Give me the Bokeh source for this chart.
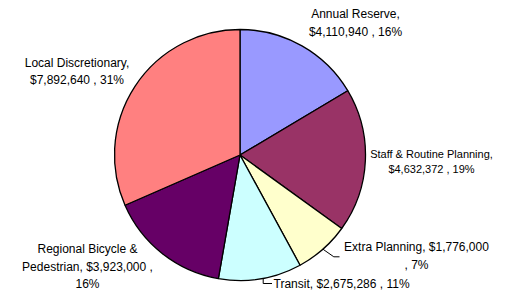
import textwrap
import numpy as np
from bokeh.plotting import figure
from bokeh.models import ColumnDataSource, Range1d
from bokeh.core.properties import value
from bokeh.embed import file_html
from bokeh.resources import INLINE

# ---- data ----
categories = ["Annual Reserve", "Staff & Routine Planning", "Extra Planning",
              "Transit", "Regional Bicycle & Pedestrian", "Local Discretionary"]
amounts = [4110940, 4632372, 1776000, 2675286, 3923000, 7892640]
percents = [16, 19, 7, 11, 16, 31]
colors = ["#9999FF", "#993366", "#FFFFCC", "#CCFFFF", "#660066", "#FF8080"]

# ---- layout (pixel positions, top-left origin) ----
W, H = 496, 290
def X(ix):
    return ix
def Y(iy):
    return H - iy

cx, cy, r = X(239.5), Y(154.5), 125.5
wrap_widths = [17, 25, 26, 40, 24, 20]
label_pos = [(355, 22.5), (431, 160.5), (416, 255.5), (273, 283), (87, 266), (76.5, 71)]
label_align = ["center", "center", "center", "left", "center", "center"]
label_size = ["12px", "11px", "12px", "12px", "12px", "12px"]

vals = np.array(amounts, dtype=float)
frac = vals / vals.sum()
c1 = np.cumsum(frac)
c0 = c1 - frac
start = np.pi / 2 - 2 * np.pi * c1
end = np.pi / 2 - 2 * np.pi * c0

wsrc = ColumnDataSource(dict(cat=categories, start=start, end=end, color=colors))

texts = []
for cat, amt, pct, w in zip(categories, amounts, percents, wrap_widths):
    s = f"{cat}, ${amt:,} , {pct}%"
    texts.append("\n".join(textwrap.wrap(s, w)))

lsrc = ColumnDataSource(dict(
    x=[X(p[0]) for p in label_pos],
    y=[Y(p[1]) for p in label_pos],
    text=texts,
    align=label_align,
    size=label_size,
))

p = figure(width=W, height=H, output_backend="svg", toolbar_location=None,
           x_range=Range1d(0, W), y_range=Range1d(0, H),
           min_border=0, outline_line_color=None)
p.axis.visible = False
p.grid.visible = False
p.background_fill_color = "white"
p.border_fill_color = "white"

p.wedge(x=cx, y=cy, radius=r, start_angle="start", end_angle="end",
        fill_color="color", line_color="black", line_width=1.3, source=wsrc)

# leader lines for Extra Planning and Transit (start at slice mid-angle on the rim)
mid = 2 * np.pi * (c0 + frac / 2)
ex, ey = cx + r * np.sin(mid[2]), cy + r * np.cos(mid[2])
p.line([ex, X(333.3), X(339)], [ey, Y(256.3), Y(256.3)], line_color="black", line_width=1)
p.line([X(262.7), X(262.7), X(271.5)], [Y(278), Y(283), Y(283)], line_color="black", line_width=1)

p.text(x="x", y="y", text="text", source=lsrc, text_align="align",
       text_baseline="middle", text_font=value("Liberation Sans"),
       text_font_size="size", text_line_height=1.25, text_color="black")

open("out.html", "w").write(file_html(p, INLINE))
